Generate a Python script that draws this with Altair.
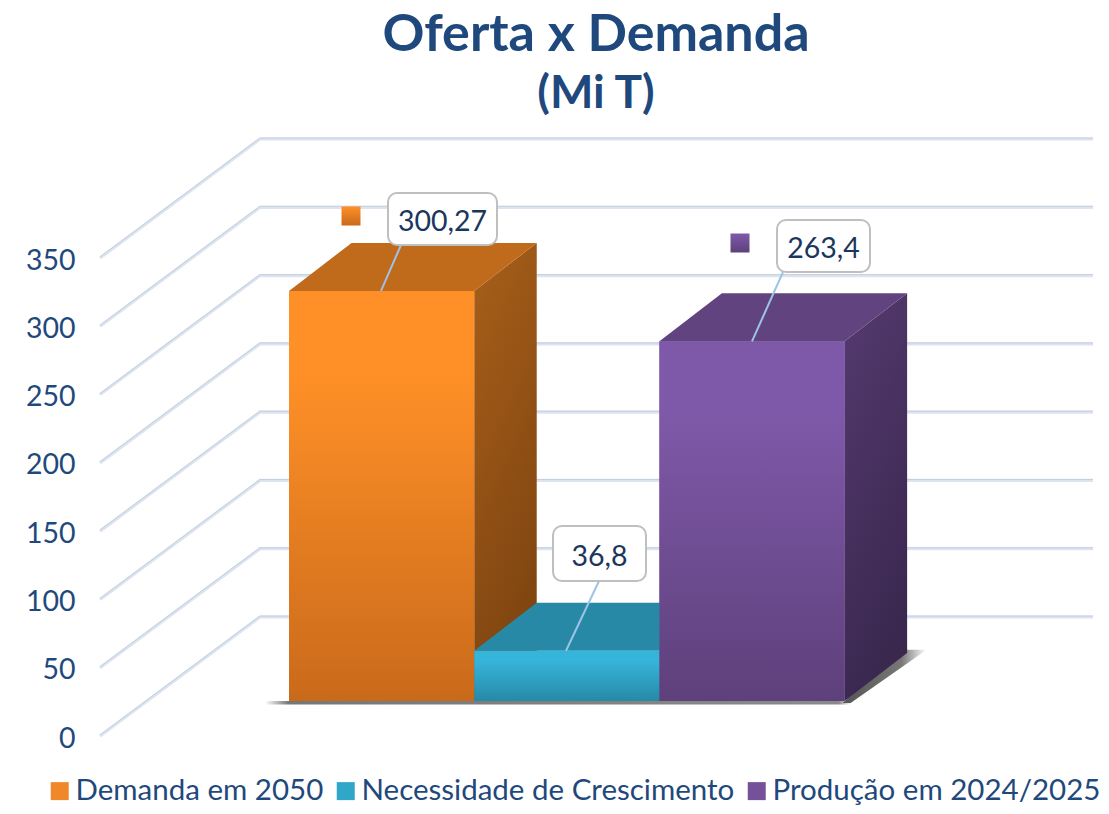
import altair as alt
import pandas as pd

# ---- values ----
categories = ["Demanda em 2050", "Necessidade de Crescimento", "Produção em 2024/2025"]
values = [300.27, 36.8, 263.4]
value_labels = ["300,27", "36,8", "263,4"]
ticks = [0, 50, 100, 150, 200, 250, 300, 350]

# ---- look ----
FONT = "Lato"
TEXT = "#1F497D"
LABEL = "#1B365D"
legend_colors = ["#F0872A", "#30A6C8", "#75519C"]
front_top = ["#FF9027", "#36B5DA", "#7F59A9"]
front_bot = ["#C96A1B", "#2689A6", "#5E407B"]
top_face = ["#C06A1C", "#2789A6", "#60437F"]
side_top = ["#A85F1A", "#1F7089", "#553A70"]
side_bot = ["#7F4510", "#1A5F75", "#3A284F"]

# ---- projection of the 3-D box (plot units) ----
PAD_L, PAD_T, W, H = 92, 122, 1000, 615
K = (736 - 258) / 350                # px per value unit
Y_LO = -(745 - 736) / K
Y_HI = (736 - 130) / K
WALL_DX, WALL_DY = 160, 119 / K      # depth of whole floor
WALL_W = 833
Z_FRONT, Z_BACK = 0.294, 0.697
BAR_X0, BAR_W = 142, 185.2
BAR_DEPTH_TRIM = 2


def proj(x, v, z):
    return x + z * WALL_DX, v + z * WALL_DY


def px(page_x):
    return page_x - 100


def vy(page_y):
    return (736 - page_y) / K


axis = alt.Axis(
    values=ticks, title=None, domain=False, ticks=False, grid=False,
    labelFont=FONT, labelFontSize=28.5, labelColor=TEXT, labelPadding=25, labelOffset=2,
)
xs = alt.Scale(domain=[0, W], nice=False, zero=False)
ys = alt.Scale(domain=[Y_LO, Y_HI], nice=False, zero=False)
X = alt.X("x:Q", scale=xs, axis=None)
X2 = alt.X2("x2:Q")
Y = alt.Y("y:Q", scale=ys, axis=axis)
Y2 = alt.Y2("y2:Q")


def grad(stops, x1=0, y1=0, x2=0, y2=1):
    return alt.Gradient(
        gradient="linear",
        x1=x1, y1=y1, x2=x2, y2=y2,
        stops=[alt.GradientStop(color=c, offset=o) for c, o in stops],
    )


layers = []

# walls: gridlines carrying the real y axis
grid_rows = []
for t in ticks:
    for (a, z) in [(0, 0), (0, 1), (WALL_W, 1)]:
        xx, yy = proj(a, t, z)
        grid_rows.append({"x": xx, "y": yy, "tick": t})
grid = pd.DataFrame(grid_rows)
layers.append(
    alt.Chart(grid).mark_line(color="#DCE4F0", strokeWidth=3.2).encode(
        x=X, y=Y, detail="tick:N", order=alt.Order("x:Q")
    )
)
grid2 = grid.assign(y=grid["y"] + 0.7)
layers.append(
    alt.Chart(grid2).mark_line(color="#C4CFE0", strokeWidth=1).encode(
        x=X, y=Y, detail="tick:N", order=alt.Order("x:Q")
    )
)

# floor shadow
sx0, v_a = proj(BAR_X0, 0, Z_FRONT)
sx1 = sx0 + 3 * BAR_W
_, v_b = proj(0, 0, Z_BACK)
layers.append(
    alt.Chart(pd.DataFrame([{"x": sx0 - 24, "x2": sx1 + 6, "y": v_a - 2.6, "y2": v_a}])).mark_rect(
        color=grad([("#FFFFFF", 0), ("#777777", 0.04), ("#8A8A8A", 0.98), ("#FFFFFF", 1)], x1=0, x2=1, y1=0, y2=0)
    ).encode(x=X, x2=X2, y=Y, y2=Y2)
)
shadow = pd.DataFrame([
    {"y": v_a - 1.5, "x": sx1 - 2, "x2": sx1 + 6},
    {"y": v_b + 2.5, "x": sx1 + 58, "x2": sx1 + 82},
])
layers.append(
    alt.Chart(shadow).mark_area(
        orient="horizontal",
        color=grad([("#555555", 0), ("#777777", 0.7), ("#FFFFFF", 1)], x1=0, x2=1, y1=0, y2=0),
    ).encode(x=X, x2=X2, y=Y)
)

# flat base of every bar: gives the legend
base_rows = []
for i, (c, v) in enumerate(zip(categories, values)):
    x0 = proj(BAR_X0 + i * BAR_W, 0, Z_FRONT)
    base_rows.append({"cat": c, "x": x0[0], "x2": x0[0] + BAR_W, "y": x0[1], "y2": x0[1] + v})
legend = alt.Legend(
    title=None, orient="none", legendX=-55, legendY=646, direction="horizontal", columns=3,
    gridAlign="each", columnPadding=7, symbolType="square", symbolSize=324, symbolStrokeWidth=0,
    labelFont=FONT, labelFontSize=29.5, labelColor=TEXT, labelOffset=1, labelLimit=500, symbolOpacity=1,
)
layers.append(
    alt.Chart(pd.DataFrame(base_rows)).mark_rect().encode(
        x=X, x2=X2, y=Y, y2=Y2,
        color=alt.Color("cat:N", scale=alt.Scale(domain=categories, range=legend_colors), legend=legend),
    )
)

# boxes, painted left to right
for i, v in enumerate(values):
    left = BAR_X0 + i * BAR_W
    right = left + BAR_W
    xf0, yf0 = proj(left, 0, Z_FRONT)
    xf1, yf1 = proj(right, v, Z_FRONT)
    xb1, yb1 = proj(right, v, Z_BACK)
    xb0, _ = proj(left, v, Z_BACK)
    xb1 -= BAR_DEPTH_TRIM
    xb0 -= BAR_DEPTH_TRIM
    _, yb_bot = proj(right, 0, Z_BACK)
    side = pd.DataFrame([
        {"x": xf1, "y": yf0, "y2": yf1},
        {"x": xb1, "y": yb_bot, "y2": yb1},
    ])
    layers.append(
        alt.Chart(side).mark_area(
            orient="vertical",
            color=grad([(side_top[i], 0), (side_bot[i], 1)], x1=0, y1=0, x2=0.3, y2=1),
        ).encode(x=X, y=Y, y2=Y2)
    )
    top = pd.DataFrame([
        {"y": yf1, "x": xf0, "x2": xf1},
        {"y": yb1, "x": xb0, "x2": xb1},
    ])
    layers.append(
        alt.Chart(top).mark_area(orient="horizontal", color=top_face[i]).encode(x=X, x2=X2, y=Y)
    )
    front = pd.DataFrame([{"x": xf0, "x2": xf1, "y": yf0, "y2": yf1}])
    layers.append(
        alt.Chart(front).mark_rect(
            color=grad([(front_top[i], 0), (front_top[i], 0.2), (front_bot[i], 1)])
        ).encode(x=X, x2=X2, y=Y, y2=Y2)
    )

# callouts (pixel layout of the boxes on the page)
box_l = [388, 553, 777]
box_r = [497, 646, 870]
box_t = [193, 526, 220]
box_b = [245, 581, 272]
anchor_x = [381, 566, 752]
leader_x = [401, 599, 783]
for i, v in enumerate(values):
    _, vf = proj(0, v, Z_FRONT)
    lead = pd.DataFrame([{"x": px(anchor_x[i]), "x2": px(leader_x[i]), "y": vf, "y2": vy(box_b[i])}])
    layers.append(
        alt.Chart(lead).mark_rule(color="#9DC3E6", strokeWidth=2).encode(x=X, x2=X2, y=Y, y2=Y2)
    )
    box = pd.DataFrame([{
        "x": px(box_l[i]), "x2": px(box_r[i]), "y": vy(box_b[i]), "y2": vy(box_t[i]),
    }])
    layers.append(
        alt.Chart(box).mark_rect(
            fill="#FFFFFF", stroke="#BFBFBF", strokeWidth=2, cornerRadius=9
        ).encode(x=X, x2=X2, y=Y, y2=Y2)
    )
    lab = pd.DataFrame([{
        "x": px((box_l[i] + box_r[i]) / 2), "y": vy((box_t[i] + box_b[i]) / 2), "t": value_labels[i],
    }])
    layers.append(
        alt.Chart(lab).mark_text(
            font=FONT, fontSize=28.5, color=LABEL, align="center", baseline="middle", dy=3
        ).encode(x=X, y=Y, text="t:N")
    )

# small legend keys beside two of the labels
key_x = [351, 740]
key_y = [216, 243]
key_i = [0, 2]
for kx, ky, i in zip(key_x, key_y, key_i):
    key = pd.DataFrame([{"x": px(kx - 9.5), "x2": px(kx + 9.5), "y": vy(ky + 9.5), "y2": vy(ky - 9.5)}])
    layers.append(
        alt.Chart(key).mark_rect(color=grad([(front_top[i], 0), (front_bot[i], 1)])).encode(
            x=X, x2=X2, y=Y, y2=Y2
        )
    )

chart = (
    alt.layer(*layers)
    .properties(
        width=W, height=H, background="white",
        padding={"left": PAD_L, "top": PAD_T, "right": 1, "bottom": 61},
        autosize=alt.AutoSizeParams(type="none"),
        title=alt.TitleParams(
            text="Oferta x Demanda",
            subtitle="(Mi T)",
            anchor="middle",
            dx=-4,
            offset=12,
            font=FONT, fontSize=52, fontWeight="bold", color=TEXT,
            subtitleFont=FONT, subtitleFontSize=46, subtitleFontWeight="bold", subtitleColor=TEXT,
            subtitlePadding=10,
        ),
    )
    .configure_view(stroke=None)
)
chart.save("out.html", embed_options={"renderer": "svg", "actions": False})
